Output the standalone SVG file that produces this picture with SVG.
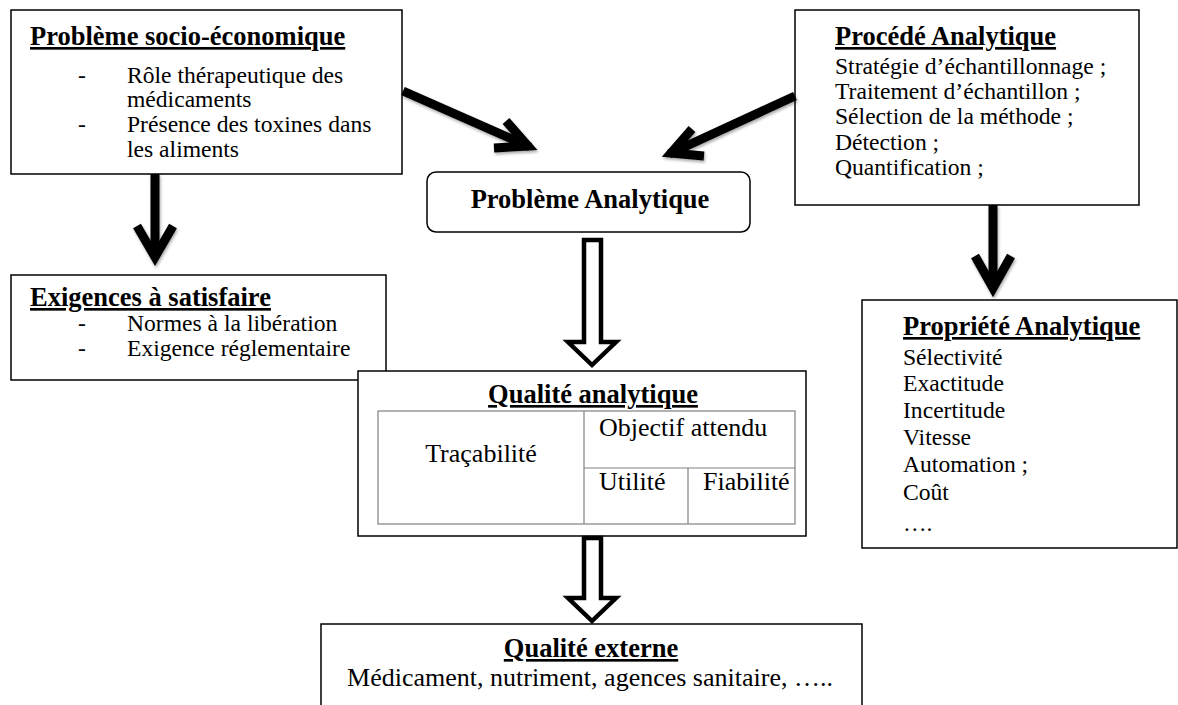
<svg xmlns="http://www.w3.org/2000/svg" width="1178" height="705" viewBox="0 0 1178 705" font-family="'Liberation Serif', 'DejaVu Serif', serif">
<defs>
<style>
.box{fill:#fff;stroke:#000;stroke-width:1.5}
.tbl{fill:none;stroke:#808080;stroke-width:1.2}
text{font-family:'Liberation Serif','DejaVu Serif',serif;fill:#000}
.h{font-size:26.5px;font-weight:bold;text-decoration:underline}
.hb{font-size:26.5px;font-weight:bold}
.b{font-size:23.6px}
.c{font-size:26px}
.shaft{stroke:#000;stroke-width:9;fill:none}
.head{stroke:#000;stroke-width:9;fill:none;stroke-linejoin:miter;stroke-miterlimit:10}
.hollow{fill:#fff;stroke:#000;stroke-width:4.5;stroke-linejoin:miter}
</style>
<filter id="sh" x="-20%" y="-20%" width="140%" height="140%">
<feDropShadow dx="1" dy="2" stdDeviation="1.5" flood-color="#000" flood-opacity="0.35"/>
</filter>
</defs>
<rect width="1178" height="705" fill="#fff"/>

<g id="socio">
<rect class="box" x="11" y="10" width="391" height="164"/>
<text class="h" x="30" y="45">Problème socio-économique</text>
<text class="b" y="83"><tspan x="78">-</tspan><tspan x="127">Rôle thérapeutique des</tspan></text>
<text class="b" x="127" y="107">médicaments</text>
<text class="b" y="132"><tspan x="78">-</tspan><tspan x="127">Présence des toxines dans</tspan></text>
<text class="b" x="127" y="157">les aliments</text>
</g>

<g id="exigences">
<rect class="box" x="11" y="275" width="375" height="105"/>
<text class="h" x="30" y="306">Exigences à satisfaire</text>
<text class="b" y="331"><tspan x="78">-</tspan><tspan x="127">Normes à la libération</tspan></text>
<text class="b" y="356"><tspan x="78">-</tspan><tspan x="127">Exigence réglementaire</tspan></text>
</g>

<g id="procede">
<rect class="box" x="795" y="10" width="344" height="195"/>
<text class="h" x="835" y="45">Procédé Analytique</text>
<text class="b" x="835" y="74">Stratégie d’échantillonnage ;</text>
<text class="b" x="835" y="99">Traitement d’échantillon ;</text>
<text class="b" x="835" y="124">Sélection de la méthode ;</text>
<text class="b" x="835" y="150">Détection ;</text>
<text class="b" x="835" y="175">Quantification ;</text>
</g>

<g id="probleme-analytique">
<rect class="box" x="427" y="172" width="323" height="60" rx="9" ry="9"/>
<text class="hb" x="590" y="208" text-anchor="middle">Problème Analytique</text>
</g>

<g id="propriete">
<rect class="box" x="862" y="300" width="315" height="248"/>
<text class="h" x="903" y="335">Propriété Analytique</text>
<text class="b" x="903" y="365">Sélectivité</text>
<text class="b" x="903" y="391">Exactitude</text>
<text class="b" x="903" y="418">Incertitude</text>
<text class="b" x="903" y="445">Vitesse</text>
<text class="b" x="903" y="472">Automation ;</text>
<text class="b" x="903" y="500">Coût</text>
<text class="b" x="903" y="531">….</text>
</g>

<g id="qualite-analytique">
<rect class="box" x="358" y="371" width="448" height="165"/>
<text class="h" x="593" y="403" text-anchor="middle">Qualité analytique</text>
<rect class="tbl" x="378" y="411" width="417" height="113"/>
<line class="tbl" x1="584" y1="411" x2="584" y2="524"/>
<line class="tbl" x1="584" y1="468" x2="795" y2="468"/>
<line class="tbl" x1="688" y1="468" x2="688" y2="524"/>
<text class="c" x="481" y="462" text-anchor="middle">Traçabilité</text>
<text class="c" x="599" y="436">Objectif attendu</text>
<text class="c" x="599" y="490">Utilité</text>
<text class="c" x="703" y="490">Fiabilité</text>
</g>

<g id="qualite-externe">
<rect class="box" x="321" y="624" width="541" height="100"/>
<text class="h" x="591" y="657" text-anchor="middle">Qualité externe</text>
<text class="c" x="590" y="686" text-anchor="middle">Médicament, nutriment, agences sanitaire, …..</text>
</g>

<g id="connectors">
<g filter="url(#sh)">
<line class="shaft" x1="403" y1="91" x2="530" y2="147"/>
<polyline class="head" points="506,121 528,146 494,148"/>
<line class="shaft" x1="795" y1="96" x2="669" y2="154"/>
<polyline class="head" points="692,129 671,153 704,156"/>
<line class="shaft" x1="155" y1="174" x2="155" y2="255"/>
<polyline class="head" points="137,226 155,257 173,226"/>
<line class="shaft" x1="993" y1="205" x2="993" y2="286"/>
<polyline class="head" points="975,256 993,288 1011,256"/>
</g>
<polygon class="hollow" points="584,240 601,240 601,342 616,342 592,365 568,342 584,342"/>
<polygon class="hollow" points="584,538 601,538 601,598 616,598 592,621 568,598 584,598"/>
</g>
</svg>
